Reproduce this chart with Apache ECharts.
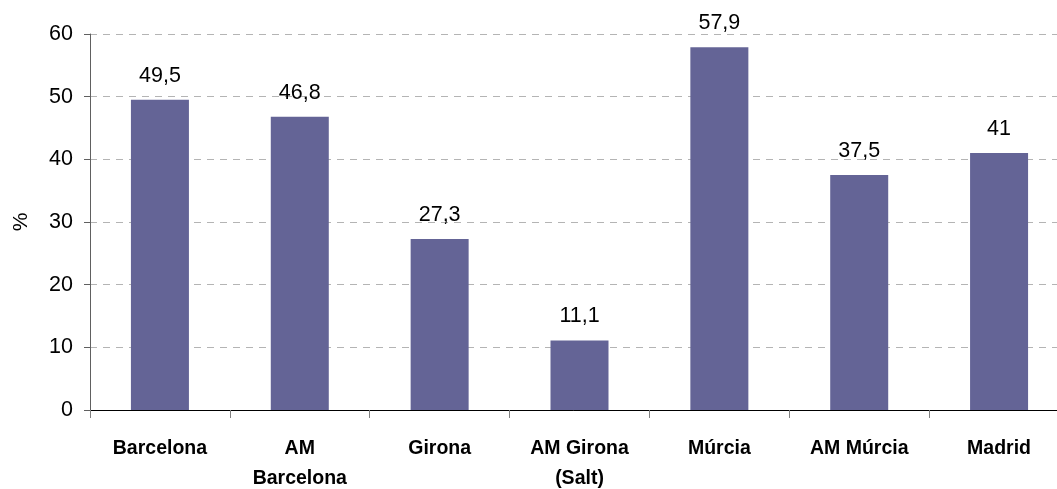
<!DOCTYPE html>
<html>
<head>
<meta charset="utf-8">
<script src="https://cdn.jsdelivr.net/npm/echarts@6/dist/echarts.min.js"></script>
<style>
html,body{margin:0;padding:0;background:#fff;}
#c{width:1057px;height:489px;}
</style>
</head>
<body>
<div id="c"></div>
<script>
const categories = ['Barcelona', 'AM\nBarcelona', 'Girona', 'AM Girona\n(Salt)', 'Múrcia', 'AM Múrcia', 'Madrid'];
const values = [49.5, 46.8, 27.3, 11.1, 57.9, 37.5, 41];
const yTicks = { min: 0, max: 60, interval: 10 };
const yName = '%';

const chart = echarts.init(document.getElementById('c'), null, { renderer: 'canvas' });
const font = "'Liberation Sans', Arial, sans-serif";
chart.setOption({
  animation: false,
  backgroundColor: '#ffffff',
  grid: { left: 90, top: 34, width: 979, height: 376, containLabel: false, outerBoundsMode: 'none' },
  xAxis: {
    type: 'category',
    data: categories,
    boundaryGap: true,
    axisLine: { show: true, lineStyle: { color: '#000000', width: 1 } },
    axisTick: { show: true, alignWithLabel: false, length: 8, lineStyle: { color: '#808080' } },
    axisLabel: {
      interval: 0, margin: 24, fontFamily: font, fontSize: 19.5, fontWeight: 'bold',
      color: '#000000', lineHeight: 30
    },
    splitLine: { show: false }
  },
  yAxis: {
    type: 'value',
    min: yTicks.min, max: yTicks.max, interval: yTicks.interval,
    name: yName, nameLocation: 'middle', nameGap: 58, nameRotate: 90,
    nameTextStyle: { fontFamily: font, fontSize: 21, color: '#000000' },
    axisLine: { show: true, lineStyle: { color: '#606060', width: 1 } },
    axisTick: { show: true, inside: false, length: 6, lineStyle: { color: '#606060' } },
    axisLabel: { margin: 17, fontFamily: font, fontSize: 21.5, color: '#000000' },
    splitLine: { show: true, lineStyle: { color: '#b4b4b4', type: [7, 6], width: 1 } }
  },
  series: [{
    type: 'bar',
    data: values,
    barWidth: 58,
    itemStyle: { color: '#646496' },
    label: {
      show: true, position: 'top', distance: 13,
      fontFamily: font, fontSize: 21.5, color: '#000000',
      formatter: p => String(p.value).replace('.', ',')
    }
  }]
});
</script>
</body>
</html>
